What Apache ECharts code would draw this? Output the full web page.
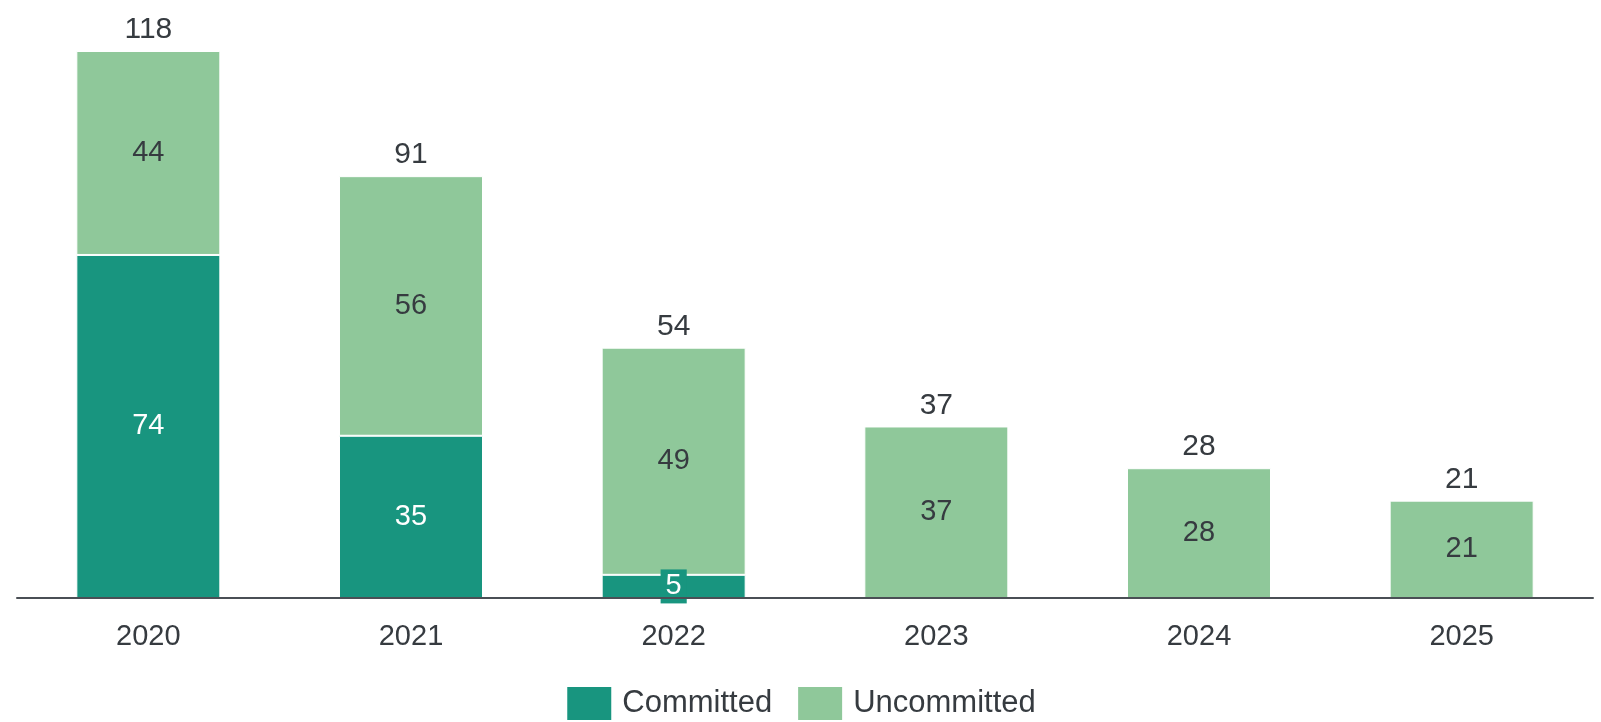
<!DOCTYPE html>
<html><head><meta charset="utf-8">
<script src="https://cdn.jsdelivr.net/npm/echarts@6/dist/echarts.min.js"></script>
<style>html,body{margin:0;padding:0;background:#fff}#c{width:1601px;height:722px}</style>
</head><body><div id="c"></div>
<script>
const categories = ['2020','2021','2022','2023','2024','2025'];
const committed = [74, 35, 5, 0, 0, 0];
const uncommitted = [44, 56, 49, 37, 28, 21];
const totals = [118, 91, 54, 37, 28, 21];
const topZero = [0, 0, 0, 0, 0, 0];

const FONT = '"Liberation Sans", Arial, sans-serif';
const TEXT = '#363b40';
const chart = echarts.init(document.getElementById('c'), null, {renderer:'canvas'});
chart.setOption({
  animation: false,
  grid: {left: 17, right: 8, top: 51, bottom: 124},
  legend: {
    data: ['Committed','Uncommitted'],
    top: 680, left: 'center',
    itemWidth: 46, itemHeight: 35, itemGap: 24,
    icon: 'rect',
    textStyle: {fontFamily: FONT, fontSize: 31, color: TEXT, padding: [0, 0, 0, 5]}
  },
  xAxis: {
    type: 'category', data: categories, z: 10,
    axisLine: {lineStyle: {color: '#4a4f55', width: 2}},
    axisTick: {show: false},
    axisLabel: {fontFamily: FONT, fontSize: 29, color: TEXT, margin: 24}
  },
  yAxis: {type: 'value', min: 0, max: 118, show: false, splitLine: {show: false}},
  series: [
    {
      name: 'Committed', type: 'bar', stack: 's', barWidth: 144,
      data: committed.map(v => v > 0 && v < 10
        ? {value: v, label: {backgroundColor: '#18957f', padding: [3, 5, 2, 5]}}
        : v),
      itemStyle: {color: '#18957f', borderColor: '#fff', borderWidth: 1},
      label: {
        show: true, position: 'inside', fontFamily: FONT, fontSize: 29,
        formatter: p => p.value ? String(p.value) : '',
        color: '#fff'
      }
    },
    {
      name: 'Uncommitted', type: 'bar', stack: 's', data: uncommitted, barWidth: 144,
      itemStyle: {color: '#8fc89a', borderColor: '#fff', borderWidth: 1},
      label: {show: true, position: 'inside', fontFamily: FONT, fontSize: 29, color: TEXT}
    },
    {
      name: 'Total', type: 'bar', stack: 's', data: topZero, barWidth: 144,
      itemStyle: {color: 'transparent'},
      label: {
        show: true, position: 'top', distance: 6, fontFamily: FONT, fontSize: 30, color: TEXT,
        formatter: p => String(totals[p.dataIndex])
      }
    }
  ]
});
</script></body></html>
